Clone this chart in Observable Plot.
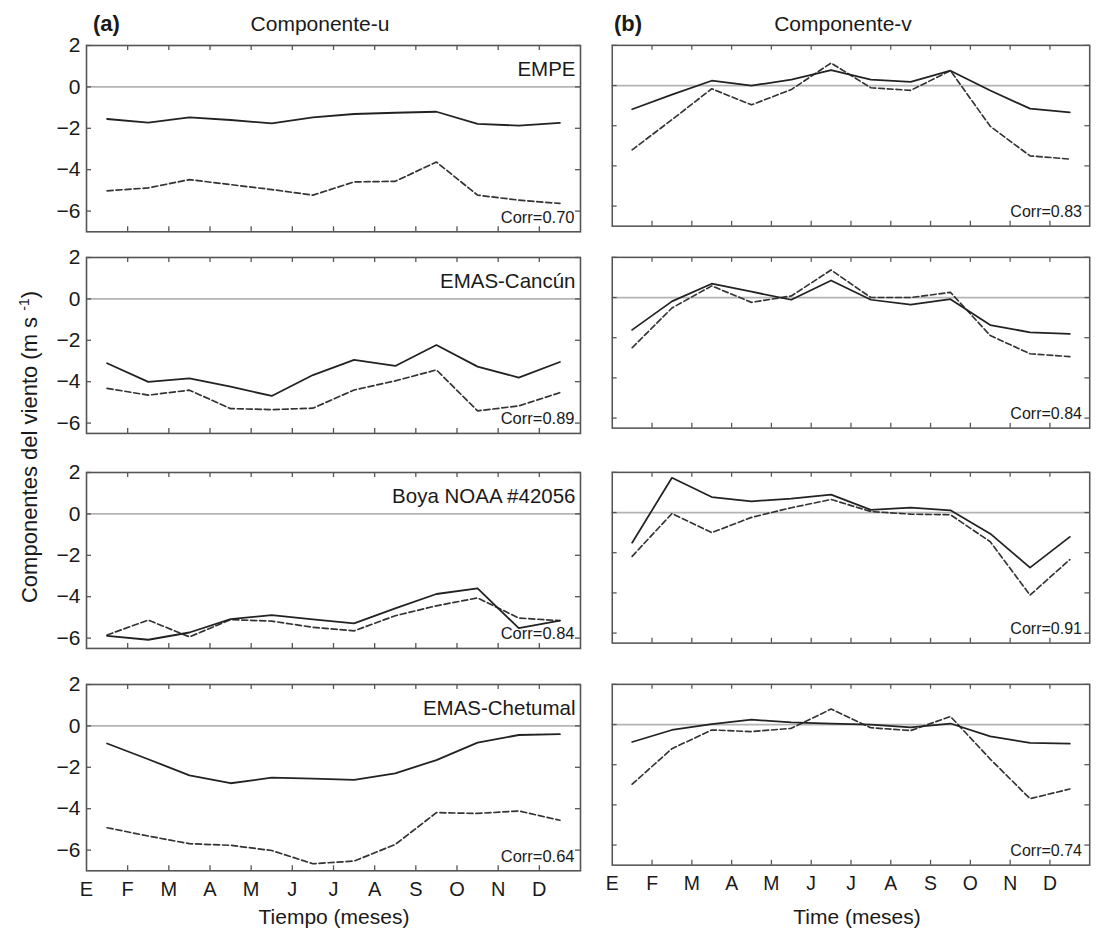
<!DOCTYPE html>
<html><head><meta charset="utf-8">
<script src="https://cdn.jsdelivr.net/npm/d3@7"></script>
<script src="https://cdn.jsdelivr.net/npm/@observablehq/plot@0.6"></script>
<style>
body{margin:0;background:#fff;}
#root{position:relative;width:1097px;height:930px;overflow:hidden;font-family:"Liberation Sans",Arial,Helvetica,sans-serif;color:#1a1a1a;background:#fff;}
.lbl{position:absolute;white-space:nowrap;line-height:1;}
.panel{position:absolute;}
sup{font-size:14px;vertical-align:0.55em;line-height:0;}
</style></head><body><div id="root"></div>
<script>
// ---- data ----
const months = ["E","F","M","A","M","J","J","A","S","O","N","D"];
const stations = ["EMPE","EMAS-Cancún","Boya NOAA #42056","EMAS-Chetumal"];
const corrU = [0.70, 0.89, 0.84, 0.64];
const corrV = [0.83, 0.84, 0.91, 0.74];
const yTicks = [2, 0, -2, -4, -6];
const yMins = [-7, -6.5, -6.5, -7];

const empeUSolid   = [-1.55, -1.73, -1.47, -1.60, -1.76, -1.47, -1.31, -1.25, -1.20, -1.79, -1.87, -1.74];
const empeUDashed  = [-5.02, -4.88, -4.48, -4.72, -4.96, -5.23, -4.59, -4.56, -3.63, -5.23, -5.47, -5.63];
const empeVSolid   = [-1.18, -0.45, 0.24, 0.00, 0.29, 0.77, 0.29, 0.18, 0.74, -0.25, -1.15, -1.34];
const empeVDashed  = [-3.20, -1.70, -0.16, -0.96, -0.20, 1.12, -0.11, -0.24, 0.74, -2.03, -3.50, -3.66];
const cancunUSolid  = [-3.11, -4.01, -3.84, -4.24, -4.69, -3.68, -2.95, -3.24, -2.23, -3.27, -3.80, -3.05];
const cancunUDashed = [-4.32, -4.65, -4.41, -5.30, -5.35, -5.28, -4.40, -3.96, -3.43, -5.41, -5.17, -4.53];
const cancunVSolid  = [-1.61, -0.19, 0.69, 0.29, -0.11, 0.85, -0.11, -0.35, -0.08, -1.37, -1.73, -1.81];
const cancunVDashed = [-2.50, -0.52, 0.58, -0.24, 0.08, 1.37, 0.00, 0.00, 0.26, -1.89, -2.80, -2.94];
const boyaUSolid   = [-5.89, -6.08, -5.73, -5.08, -4.89, -5.10, -5.29, -4.56, -3.87, -3.60, -5.52, -5.16];
const boyaUDashed  = [-5.85, -5.13, -5.94, -5.11, -5.18, -5.48, -5.65, -4.92, -4.44, -4.06, -5.03, -5.16];
const boyaVSolid   = [-1.50, 1.73, 0.77, 0.56, 0.69, 0.89, 0.13, 0.24, 0.11, -1.05, -2.74, -1.21];
const boyaVDashed  = [-2.18, -0.05, -1.00, -0.24, 0.24, 0.65, 0.05, -0.08, -0.11, -1.45, -4.11, -2.34];
const chetUSolid   = [-0.85, -1.61, -2.39, -2.77, -2.50, -2.55, -2.61, -2.29, -1.65, -0.81, -0.44, -0.40];
const chetUDashed  = [-4.92, -5.32, -5.69, -5.77, -6.02, -6.66, -6.53, -5.73, -4.19, -4.23, -4.11, -4.56];
const chetVSolid   = [-0.87, -0.27, 0.02, 0.24, 0.11, 0.05, 0.00, -0.14, 0.05, -0.59, -0.91, -0.95];
const chetVDashed  = [-2.97, -1.20, -0.27, -0.35, -0.19, 0.77, -0.16, -0.30, 0.40, -1.72, -3.69, -3.21];

const uSeries = [[empeUSolid, empeUDashed], [cancunUSolid, cancunUDashed], [boyaUSolid, boyaUDashed], [chetUSolid, chetUDashed]];
const vSeries = [[empeVSolid, empeVDashed], [cancunVSolid, cancunVDashed], [boyaVSolid, boyaVDashed], [chetVSolid, chetVDashed]];

// ---- layout ----
const FONT = '"Liberation Sans", Arial, Helvetica, sans-serif';
const frameTops = [45, 257, 472, 684];
const pxPerUnit = 20.7;
const colFrames = [[86, 580], [612, 1104]];
const root = document.getElementById("root");
const monthIdx = d3.range(12);
const frameColor = "#555";

function addLabel(html, left, top, size, opts = {}) {
  const d = document.createElement("div");
  d.className = "lbl";
  d.innerHTML = html;
  d.style.left = left + "px";
  d.style.top = top + "px";
  d.style.fontSize = size + "px";
  if (opts.bold) d.style.fontWeight = "bold";
  if (opts.transform) d.style.transform = opts.transform;
  root.appendChild(d);
}

function panel(row, col) {
  const [fL, fR] = colFrames[col];
  const fw = fR - fL;
  const isBottom = row === 3;
  const mL = col === 0 ? 86 : 8;
  const mR = 8, mT = 4, mB = isBottom ? 40 : 4;
  const frameH = (2 - yMins[row]) * pxPerUnit;
  const width = mL + fw + mR, height = mT + frameH + mB;
  const [solid, dashed] = (col === 0 ? uSeries : vSeries)[row];
  const data = monthIdx.map(i => ({x: i + 0.5, s: solid[i], d: dashed[i]}));
  const corr = (col === 0 ? corrU : corrV)[row];
  const marks = [
    Plot.ruleY([0], {stroke: "#b4b4b4", strokeWidth: 1.8}),
    Plot.line(data, {x: "x", y: "d", stroke: "#333", strokeWidth: 1.7, strokeDasharray: "6,3"}),
    Plot.line(data, {x: "x", y: "s", stroke: "#222", strokeWidth: 1.8}),
    Plot.tickY(yTicks, {y: d => d, insetRight: fw - 5, stroke: frameColor, strokeWidth: 1.3}),
    Plot.tickY(yTicks, {y: d => d, insetLeft: fw - 5, stroke: frameColor, strokeWidth: 1.3}),
    Plot.tickX(monthIdx.slice(1), {x: d => d, insetBottom: frameH - 5, stroke: frameColor, strokeWidth: 1.3}),
    Plot.tickX(monthIdx.slice(1), {x: d => d, insetTop: frameH - 5, stroke: frameColor, strokeWidth: 1.3}),
    Plot.text([corr], {text: d => "Corr=" + d.toFixed(2), frameAnchor: "bottom-right", dx: col === 0 ? -6 : -8, dy: -9, textAnchor: "end", lineAnchor: "bottom", fontSize: 16.5, fill: "#1a1a1a"}),
    Plot.frame({stroke: frameColor, strokeWidth: 1.6})
  ];
  if (col === 0) {
    marks.push(Plot.text([stations[row]], {text: d => d, frameAnchor: "top-right", dx: -5, dy: 16, textAnchor: "end", lineAnchor: "top", fontSize: 20.5, fill: "#1a1a1a"}));
    marks.push(Plot.axisY(yTicks, {tickSize: 0, tickPadding: 6, fontSize: 21, fill: "#1a1a1a", label: null}));
  }
  if (isBottom) marks.push(Plot.axisX(monthIdx, {tickSize: 0, tickPadding: 11, fontSize: 20, fill: "#1a1a1a", label: null, tickFormat: i => months[i]}));
  const chart = Plot.plot({
    width, height, marginLeft: mL, marginRight: mR, marginTop: mT, marginBottom: mB,
    style: {fontFamily: FONT, fontSize: "20px", color: "#1a1a1a", background: "transparent", overflow: "visible"},
    x: {domain: [0, 12], axis: isBottom ? undefined : null},
    y: {domain: [yMins[row], 2], axis: col === 0 ? undefined : null},
    marks
  });
  const wrap = document.createElement("div");
  wrap.className = "panel";
  wrap.style.left = (fL - mL) + "px";
  wrap.style.top = (frameTops[row] - mT) + "px";
  wrap.appendChild(chart);
  root.appendChild(wrap);
}

for (let r = 0; r < 4; r++) for (let c = 0; c < 2; c++) panel(r, c);

// ---- titles ----
addLabel("(a)", 93, 13, 22, {bold: true});
addLabel("(b)", 614, 13, 22, {bold: true});
addLabel("Componente-u", 320, 13, 21, {transform: "translateX(-50%)"});
addLabel("Componente-v", 843, 13, 21, {transform: "translateX(-50%)"});
addLabel("Tiempo (meses)", 334, 906, 21, {transform: "translateX(-50%)"});
addLabel("Time (meses)", 857, 906, 21, {transform: "translateX(-50%)"});
addLabel("Componentes del viento (m s <sup>-1</sup>)", 30, 447, 22, {transform: "translate(-50%,-50%) rotate(-90deg)"});
</script>
</body></html>
